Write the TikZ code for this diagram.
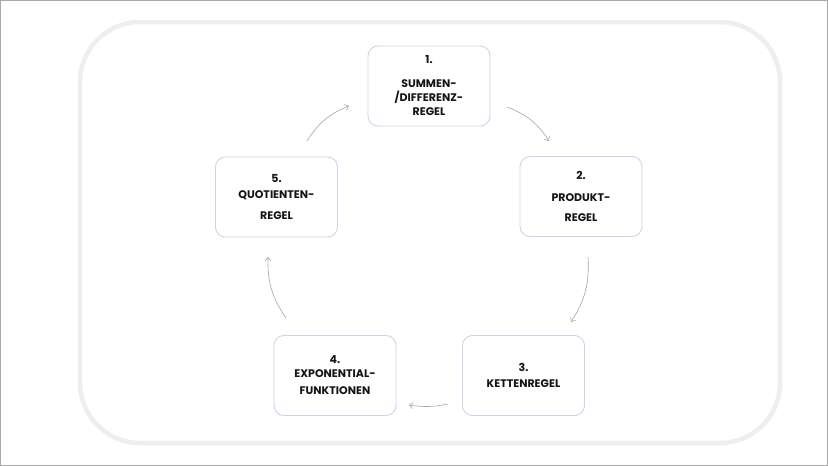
\documentclass[tikz,border=0pt]{standalone}
\usepackage{fontspec}
\setmainfont{Poppins}
\usetikzlibrary{arrows.meta}
\definecolor{framegray}{HTML}{EEEEEE}
\definecolor{bordergray}{HTML}{A8A8A8}
\definecolor{boxline}{HTML}{C9D6EA}
\definecolor{arrowcol}{HTML}{ADA597}
\definecolor{txt}{HTML}{141414}
\begin{document}
\begin{tikzpicture}[x=1pt,y=-1pt,
  stepbox/.style={draw=boxline,line width=0.9pt,fill=white,rounded corners=10pt,
    minimum width=122pt,minimum height=80pt,align=center,inner sep=0pt,
    text=txt,font=\fontsize{11}{14}\selectfont\bfseries},
  flow/.style={draw=arrowcol,line width=0.6pt,-{Straight Barb[length=3.5pt,width=6pt]},bend left=18}]
\useasboundingbox (0,0) rectangle (828,466);
\fill[white] (0,0) rectangle (828,466);
\draw[bordergray,line width=1pt] (0.5,0.5) rectangle (827.5,465.5);
\draw[framegray,line width=4.5pt,rounded corners=60pt] (80,22) rectangle (780,443);
\node[stepbox] (b1) at (429,86) {1.\\[10pt]SUMMEN-\\/DIFFERENZ-\\REGEL};
\node[stepbox] (b2) at (581,196.5) {2.\\[8pt]PRODUKT-\\[6pt]REGEL};
\node[stepbox] (b3) at (523.5,375.5) {3.\\[2pt]KETTENREGEL};
\node[stepbox] (b4) at (335,375.5) {4.\\EXPONENTIAL-\\[3pt]FUNKTIONEN};
\node[stepbox] (b5) at (276.5,197) {5.\\[2pt]QUOTIENTEN-\\[7pt]REGEL};
\coordinate (a1s) at (507,107); \coordinate (a1e) at (549,141);
\coordinate (a2s) at (588,257); \coordinate (a2e) at (571,322);
\coordinate (a3s) at (448,404); \coordinate (a3e) at (409,405);
\coordinate (a4s) at (286,318); \coordinate (a4e) at (268,257);
\coordinate (a5s) at (307,141); \coordinate (a5e) at (349,106);
\draw[flow] (a1s) to (a1e);
\draw[flow] (a2s) to (a2e);
\draw[flow,bend left=10] (a3s) to (a3e);
\draw[flow] (a4s) to (a4e);
\draw[flow] (a5s) to (a5e);
\end{tikzpicture}
\end{document}
